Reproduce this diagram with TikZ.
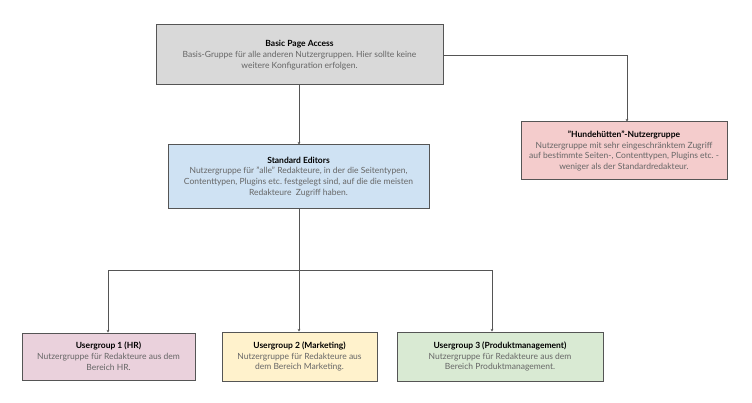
\documentclass[tikz,border=0pt]{standalone}
\usepackage{fontspec}
\setmainfont{Lato}
\usetikzlibrary{arrows.meta}
\frenchspacing
\definecolor{bordergray}{HTML}{555555}
\definecolor{textgray}{HTML}{666666}
\definecolor{fgray}{HTML}{D9D9D9}
\definecolor{fblue}{HTML}{CFE2F3}
\definecolor{fred}{HTML}{F4CCCC}
\definecolor{fpink}{HTML}{EAD1DC}
\definecolor{fyellow}{HTML}{FFF2CC}
\definecolor{fgreen}{HTML}{D9EAD3}
\tikzset{
  box/.style={draw=bordergray, line width=1pt, rectangle, align=center, inner sep=0pt,
    font=\fontsize{8.5pt}{10.9pt}\selectfont\frenchspacing, text=textgray},
  conn/.style={draw=bordergray, line width=0.9pt, -{Stealth[length=2.6pt,width=2.8pt]}},
  plainconn/.style={draw=bordergray, line width=0.9pt},
}
\newcommand{\ttl}[1]{\textcolor{black}{\bfseries #1}}
\begin{document}
\begin{tikzpicture}[x=1pt,y=-1pt]
\useasboundingbox (0,0) rectangle (752,403);
\node[box, fill=fgray, minimum width=287pt, minimum height=60pt] (bpa) at (299.5,55)
  {\ttl{Basic Page Access}\\Basis-Gruppe für alle anderen Nutzergruppen. Hier sollte keine\\weitere Konfiguration erfolgen.};
\node[box, fill=fblue, minimum width=261pt, minimum height=64pt] (se) at (298.5,177)
  {\ttl{Standard Editors}\\Nutzergruppe für "alle" Redakteure, in der die Seitentypen,\\Contenttypen, Plugins etc. festgelegt sind, auf die die meisten\\Redakteure\ \ Zugriff haben.};
\node[box, fill=fred, minimum width=206pt, minimum height=58pt] (hh) at (624,151)
  {\ttl{"Hundehütten"-Nutzergruppe}\\Nutzergruppe mit sehr eingeschränktem Zugriff\\auf bestimmte Seiten-, Contenttypen, Plugins etc. -\\weniger als der Standardredakteur.};
\node[box, fill=fpink, minimum width=173pt, minimum height=47pt] (ug1) at (108.5,356.5)
  {\ttl{Usergroup 1 (HR)}\\Nutzergruppe für Redakteure aus dem\\Bereich HR.};
\node[box, fill=fyellow, minimum width=155pt, minimum height=49pt] (ug2) at (299.5,356.5)
  {\ttl{Usergroup 2 (Marketing)}\\Nutzergruppe für Redakteure aus\\dem Bereich Marketing.};
\node[box, fill=fgreen, minimum width=206pt, minimum height=49pt] (ug3) at (500,356.5)
  {\ttl{Usergroup 3 (Produktmanagement)}\\Nutzergruppe für Redakteure aus dem\\Bereich Produktmanagement.};
\coordinate (hc) at (627,55);
\coordinate (j) at (299,270);
\coordinate (jl) at (108,270);
\coordinate (jr) at (492,270);
\draw[conn] (bpa.south -| j) -- (se.north -| j);
\draw[conn] (bpa.east) -- (hc) -- (hc |- hh.north);
\draw[plainconn] (se.south -| j) -- (j);
\draw[conn] (j) -- (jl) -- (jl |- ug1.north);
\draw[conn] (j) -- (jr) -- (jr |- ug3.north);
\draw[conn] (j) -- (j |- ug2.north);
\end{tikzpicture}
\end{document}
